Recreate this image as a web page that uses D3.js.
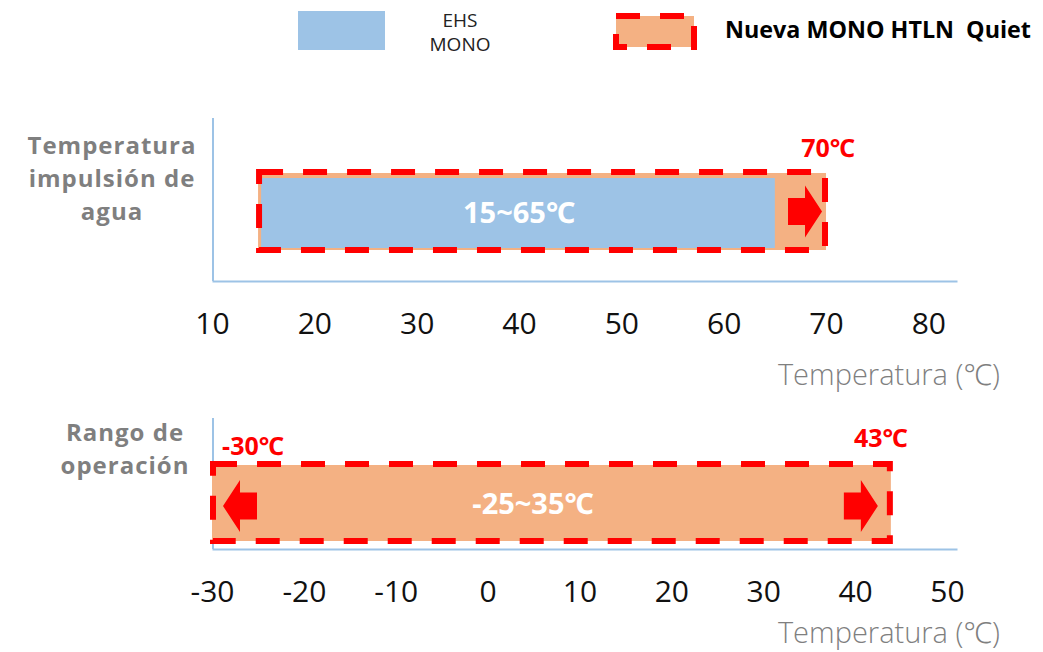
<!DOCTYPE html>
<html><head><meta charset="utf-8">
<script src="https://cdn.jsdelivr.net/npm/d3@7"></script>
<style>
body{margin:0;background:#fff;}
svg text{font-family:"Open Sans","Noto Sans",sans-serif;}
</style></head>
<body><svg id="c" width="1043" height="652"></svg>
<script>
// ---- data ----
const legendLabels = [["EHS","MONO"], ["Nueva MONO HTLN  Quiet"]];
const panelTitles = [["Temperatura","impulsión de","agua"], ["Rango de","operación"]];
const axisTitle = "Temperatura (℃)";
const topTicks = [10,20,30,40,50,60,70,80];
const bottomTicks = [-30,-20,-10,0,10,20,30,40,50];
const topDomain = [10, 82.8];
const bottomDomain = [-30, 51.1];
// ranges: [start, end]
const topNewRange = [14.5, 70];      // Nueva MONO HTLN Quiet (water outlet)
const topEhsRange = [14.8, 65];      // EHS MONO (water outlet)
const bottomNewRange = [-30, 43.9];  // Nueva MONO HTLN Quiet (operation)
const topBarLabel = "15~65℃";
const bottomBarLabel = "-25~35℃";
const topMaxLabel = "70℃";
const bottomMinLabel = "-30℃";
const bottomMaxLabel = "43℃";

const BLUE = "#9dc3e6", ORANGE = "#f4b183", RED = "#ff0000", AXIS = "#9dc3e6", GREY = "#7f7f7f";
const svg = d3.select("#c");

// ---- legend ----
svg.append("rect").attr("x",298).attr("y",11).attr("width",87).attr("height",39).attr("fill",BLUE);
legendLabels[0].forEach((s,i)=>svg.append("text").attr("x",460).attr("y",27+i*24).attr("text-anchor","middle")
  .attr("font-size",19).attr("fill","#222").text(s));
svg.append("rect").attr("x",616).attr("y",16).attr("width",78).attr("height",31).attr("fill",ORANGE)
  .attr("stroke",RED).attr("stroke-width",6).attr("stroke-dasharray","24,20");
svg.append("text").attr("x",725).attr("y",38).attr("font-size",23).attr("font-weight",700).attr("fill","#000")
  .style("white-space","pre").attr("textLength",306).attr("lengthAdjust","spacingAndGlyphs").text(legendLabels[1][0]);

function arrow(g, tipX, cy, dir){
  const L=34, H=17, hh=26, bh=13.5;
  const b = tipX - dir*L, h = tipX - dir*H;
  const pts = [[b,cy-bh],[h,cy-bh],[h,cy-hh],[tipX,cy],[h,cy+hh],[h,cy+bh],[b,cy+bh]];
  g.append("path").attr("d", d3.line()(pts)+"Z").attr("fill",RED);
}

function panel(cfg){
  const x = d3.scaleLinear().domain(cfg.domain).range([212,957]);
  const y = d3.scaleBand().domain([cfg.key]).range(cfg.band);
  const g = svg.append("g");
  // axes
  const ax = g.append("g").attr("transform",`translate(0,${cfg.axisY})`)
    .call(d3.axisBottom(x).tickValues(cfg.ticks).tickSize(0).tickPadding(32).tickFormat(d=>String(d)));
  ax.select(".domain").attr("stroke",AXIS).attr("stroke-width",2);
  ax.selectAll("text").attr("font-size",30).attr("fill","#111").attr("font-family","'Open Sans',sans-serif");
  g.append("line").attr("x1",213).attr("x2",213).attr("y1",cfg.axisTop).attr("y2",cfg.axisY)
    .attr("stroke",AXIS).attr("stroke-width",2);
  g.append("text").attr("x",1000).attr("y",cfg.axisY+cfg.titleOff).attr("text-anchor","end")
    .attr("font-size",29).attr("fill",GREY).attr("font-weight",300).text(axisTitle);
  // title
  cfg.title.forEach((s,i)=>g.append("text").attr("text-anchor","middle").attr("font-size",24).attr("font-weight",700)
    .attr("letter-spacing",1).attr("fill",GREY).attr("x",cfg.titleX).attr("y",cfg.titleY+i*33).text(s));
  // bars
  const y0 = y(cfg.key), bh = y.bandwidth();
  g.append("rect").attr("x",x(cfg.newR[0])).attr("y",y0).attr("width",x(cfg.newR[1])-x(cfg.newR[0])).attr("height",bh).attr("fill",ORANGE);
  if(cfg.ehsR){
    g.append("rect").attr("x",x(cfg.ehsR[0])).attr("y",y0+5).attr("width",x(cfg.ehsR[1])-x(cfg.ehsR[0])).attr("height",bh-7).attr("fill",BLUE);
  }
  g.append("rect").attr("x",x(cfg.newR[0])+1).attr("y",y0-1).attr("width",x(cfg.newR[1])-x(cfg.newR[0])-2).attr("height",bh+1)
    .attr("fill","none").attr("stroke",RED).attr("stroke-width",6).attr("stroke-dasharray","24,20");
  const cy = y0 + bh/2;
  g.append("text").attr("x",cfg.labelX).attr("y",cy+11).attr("text-anchor","middle").attr("font-size",29)
    .attr("font-weight",700).attr("fill","#fff").text(cfg.label);
  return {g,x,y0,bh,cy};
}

const p1 = panel({key:"impulsion", domain:topDomain, ticks:topTicks, band:[173,250], axisY:281, axisTop:118, titleOff:104,
  title:panelTitles[0], titleX:112, titleY:154, newR:topNewRange, ehsR:topEhsRange, label:topBarLabel, labelX:519});
arrow(p1.g, p1.x(topNewRange[1])-4, p1.cy, 1);
p1.g.append("text").attr("x",p1.x(topNewRange[1])+2).attr("y",157).attr("text-anchor","middle").attr("font-size",25)
  .attr("font-weight",700).attr("fill",RED).text(topMaxLabel);

const p2 = panel({key:"operacion", domain:bottomDomain, ticks:bottomTicks, band:[465,541], axisY:549, axisTop:418, titleOff:94,
  title:panelTitles[1], titleX:125, titleY:441, newR:bottomNewRange, ehsR:null, label:bottomBarLabel, labelX:533});
arrow(p2.g, p2.x(bottomNewRange[1])-13, p2.cy+3, 1);
arrow(p2.g, p2.x(bottomNewRange[0])+11, p2.cy+3, -1);
p2.g.append("text").attr("x",p2.x(bottomNewRange[0])+41).attr("y",455).attr("text-anchor","middle").attr("font-size",25)
  .attr("font-weight",700).attr("fill",RED).text(bottomMinLabel);
p2.g.append("text").attr("x",p2.x(bottomNewRange[1])-10).attr("y",447).attr("text-anchor","middle").attr("font-size",25)
  .attr("font-weight",700).attr("fill",RED).text(bottomMaxLabel);
</script></body></html>
